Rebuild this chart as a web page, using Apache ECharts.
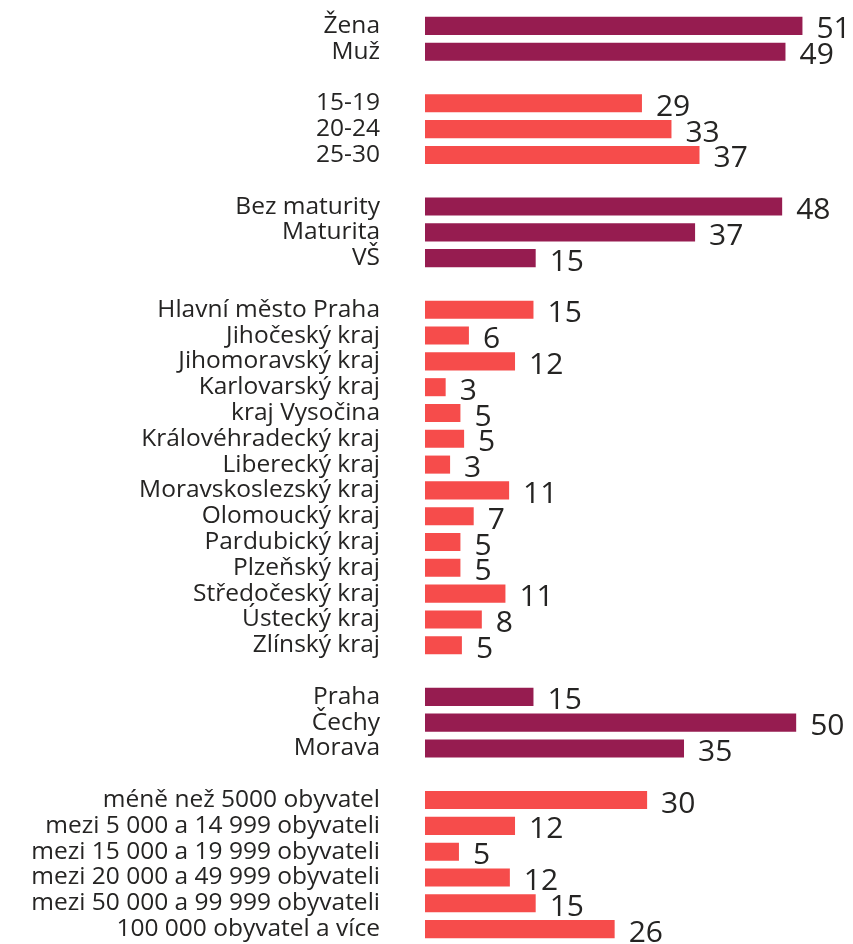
<!DOCTYPE html>
<html>
<head>
<meta charset="utf-8">
<script src="https://cdn.jsdelivr.net/npm/echarts@6/dist/echarts.min.js"></script>
<style>
html, body { margin: 0; padding: 0; background: #fff; }
#chart { width: 853px; height: 944px; }
</style>
</head>
<body>
<div id="chart"></div>
<script>
// groups of categories, values in percent
const genderCats = ['Žena', 'Muž']
const genderVals = [51.15, 48.85]
const ageCats = ['15-19', '20-24', '25-30']
const ageVals = [29.4, 33.4, 37.2]
const eduCats = ['Bez maturity', 'Maturita', 'VŠ']
const eduVals = [48.4, 36.6, 15.0]
const regionCats = ['Hlavní město Praha', 'Jihočeský kraj', 'Jihomoravský kraj', 'Karlovarský kraj',
    'kraj Vysočina', 'Královéhradecký kraj', 'Liberecký kraj', 'Moravskoslezský kraj', 'Olomoucký kraj',
    'Pardubický kraj', 'Plzeňský kraj', 'Středočeský kraj', 'Ústecký kraj', 'Zlínský kraj']
const regionVals = [14.7, 5.95, 12.2, 2.8, 4.8, 5.3, 3.4, 11.4, 6.6, 4.8, 4.8, 10.9, 7.7, 5.0]
const areaCats = ['Praha', 'Čechy', 'Morava']
const areaVals = [14.7, 50.3, 35.1]
const sizeCats = ['méně než 5000 obyvatel', 'mezi 5 000 a 14 999 obyvateli', 'mezi 15 000 a 19 999 obyvateli',
    'mezi 20 000 a 49 999 obyvateli', 'mezi 50 000 a 99 999 obyvateli', '100 000 obyvatel a více']
const sizeVals = [30.1, 12.2, 4.6, 11.5, 15.0, 25.7]

const DARK = '#961c50'
const RED = '#f64c4b'

const groups = [
    { cats: genderCats, vals: genderVals, color: DARK },
    { cats: ageCats, vals: ageVals, color: RED },
    { cats: eduCats, vals: eduVals, color: DARK },
    { cats: regionCats, vals: regionVals, color: RED },
    { cats: areaCats, vals: areaVals, color: DARK },
    { cats: sizeCats, vals: sizeVals, color: RED }
]

// flatten with an empty row between groups
var categories = []
var seriesData = []
groups.forEach(function (g, gi) {
    if (gi > 0) {
        categories.push('')
        seriesData.push(null)
    }
    for (let i = 0; i < g.cats.length; ++i) {
        categories.push(g.cats[i])
        seriesData.push({ value: g.vals[i], itemStyle: { color: g.color } })
    }
})

var chart = echarts.init(document.getElementById('chart'))
chart.setOption({
    animation: false,
    textStyle: { fontFamily: "'Segoe UI', 'Open Sans', sans-serif" },
    grid: {
        left: 425,
        right: 0,
        top: 13,
        bottom: 2
    },
    xAxis: {
        type: 'value',
        min: 0,
        max: 58,
        show: false
    },
    yAxis: {
        type: 'category',
        inverse: true,
        data: categories,
        axisLine: { show: false },
        axisTick: { show: false },
        splitLine: { show: false },
        axisLabel: {
            interval: 0,
            margin: 45,
            fontSize: 24.5,
            color: '#252423',
            fontFamily: "'Segoe UI', 'Open Sans', sans-serif"
        }
    },
    series: [{
        type: 'bar',
        data: seriesData,
        barCategoryGap: '30%',
        label: {
            show: true,
            position: 'right',
            distance: 14,
            offset: [0, 4],
            fontSize: 30,
            color: '#252423',
            fontFamily: "'Segoe UI', 'Open Sans', sans-serif",
            formatter: function (p) {
                return Math.round(p.value)
            }
        }
    }]
})
</script>
</body>
</html>
